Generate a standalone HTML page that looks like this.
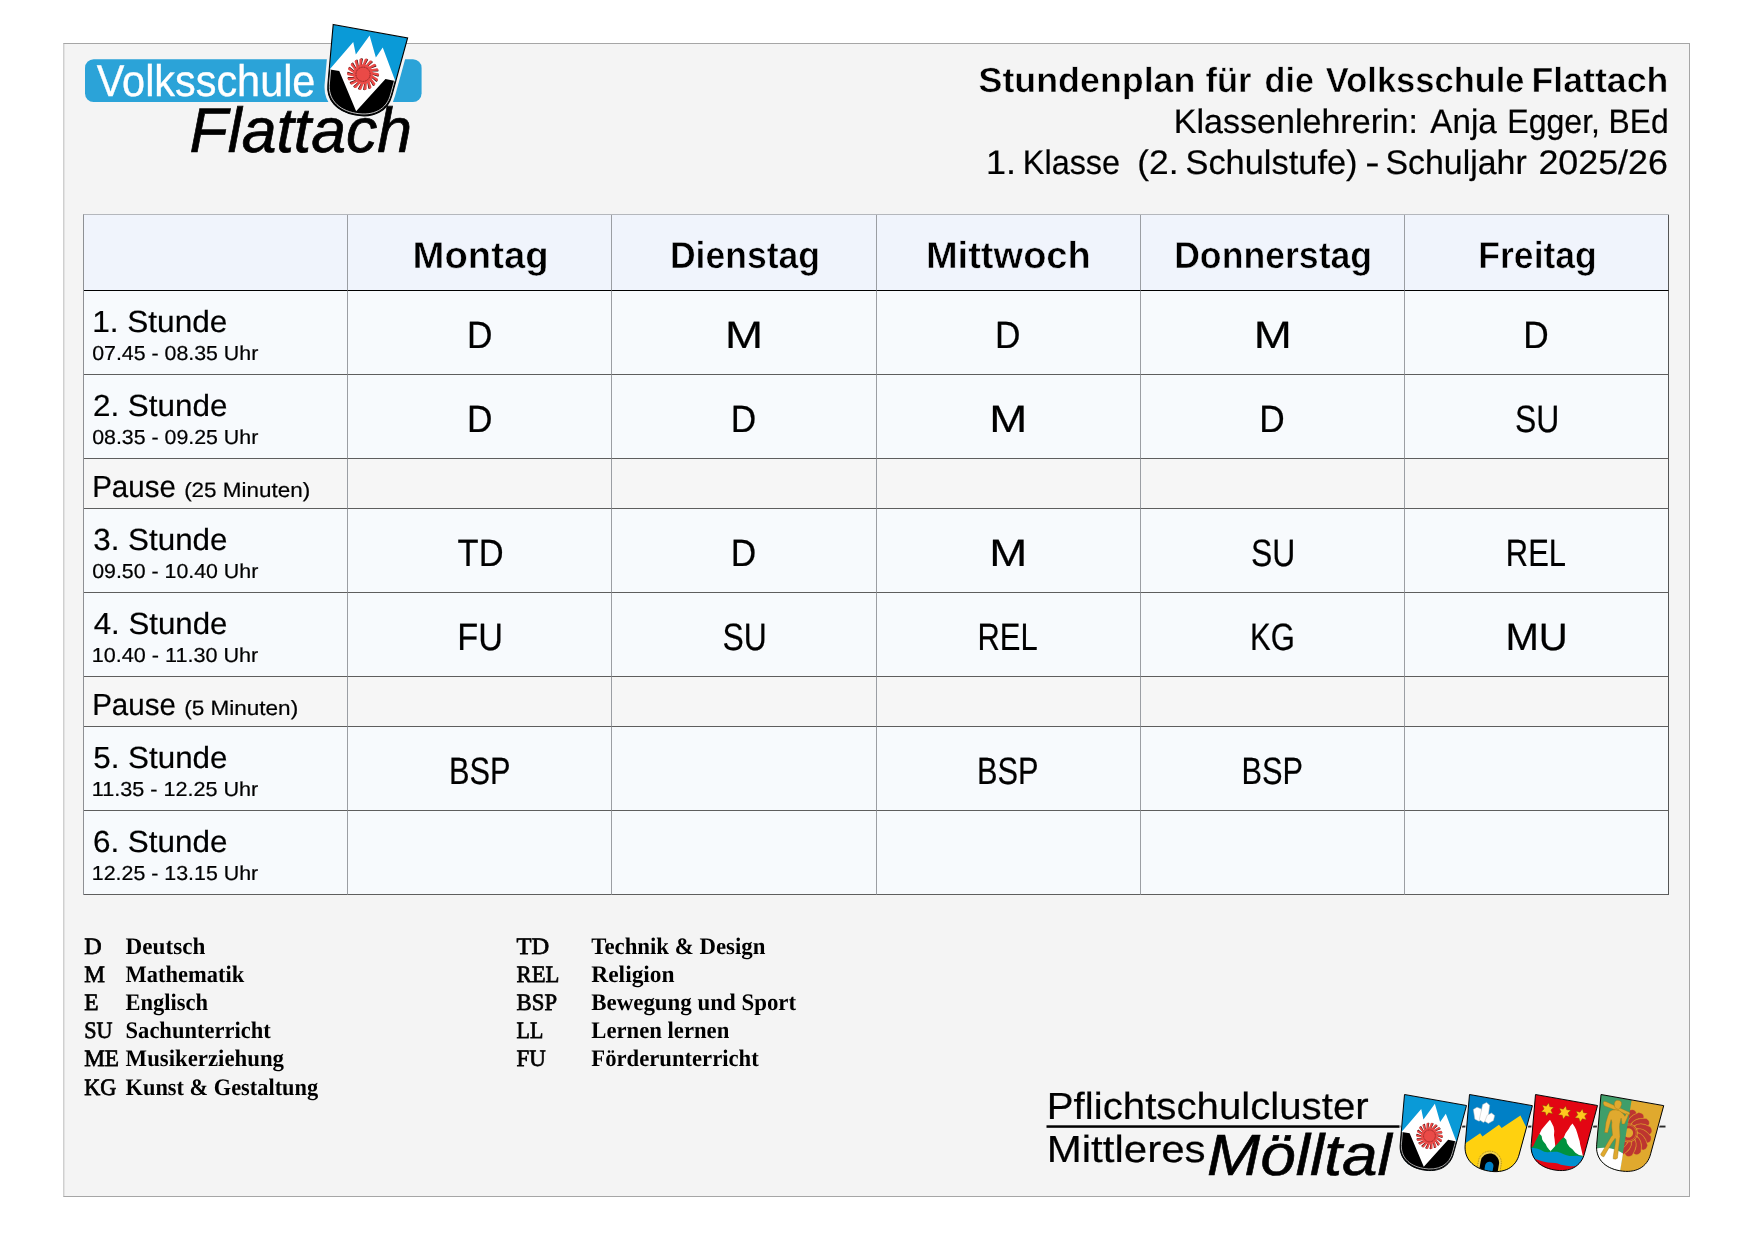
<!DOCTYPE html><html lang="de"><head><meta charset="utf-8"><title>Stundenplan Volksschule Flattach</title><style>
html,body{margin:0;padding:0;background:#fff}
body{width:1754px;height:1240px;position:relative;overflow:hidden;font-family:"Liberation Sans",sans-serif}
.panel{position:absolute;left:63px;top:43px;width:1625px;height:1152px;background:#f4f4f4;border:1px solid #a6a6a6;border-left-color:#cfcfcf;box-shadow:inset 1px 0 0 #e3e3e3}
table.plan{position:absolute;left:83px;top:214px;border-collapse:separate;border-spacing:0;table-layout:fixed;border-left:1px solid #8e9094;border-top:1px solid #b4b7bc}
table.plan td,table.plan th{box-sizing:border-box;padding:0;border-right:1px solid #9b9ea3;border-bottom:1px solid #5e5e5e}
table.plan tr.h th{background:#f0f4fc;border-bottom-color:#000}
table.plan tr.l td{background:#f7fafd}
table.plan tr.p td{background:#f6f6f6}
table.plan tr td:last-child,table.plan tr th:last-child{border-right-color:#555}
svg.ov{position:absolute;left:0;top:0;will-change:transform}
svg.ov text{font-family:"Liberation Sans",sans-serif;stroke:#000;stroke-width:.22px;text-rendering:geometricPrecision}
svg.ov text[fill="#fff"]{stroke:#fff}
svg.ov text[font-weight="bold"]{stroke:#f4f4f4;stroke-width:.5px;paint-order:fill stroke}
svg.ov text.th{stroke:#f0f4fc}
svg.ov text.sf[font-weight="bold"]{stroke:none}
svg.ov text.sf{font-family:"Liberation Serif",serif}
svg.ov text.lc{stroke:#000;stroke-width:.75px}
</style></head><body><div class="panel"></div><table class="plan"><colgroup><col style="width:264px"><col style="width:264px"><col style="width:265px"><col style="width:264px"><col style="width:264px"><col style="width:264px"></colgroup><tr class="h" style="height:76px"><th></th><th></th><th></th><th></th><th></th><th></th></tr><tr class="l" style="height:84px"><td></td><td></td><td></td><td></td><td></td><td></td></tr><tr class="l" style="height:84px"><td></td><td></td><td></td><td></td><td></td><td></td></tr><tr class="p" style="height:50px"><td></td><td></td><td></td><td></td><td></td><td></td></tr><tr class="l" style="height:84px"><td></td><td></td><td></td><td></td><td></td><td></td></tr><tr class="l" style="height:84px"><td></td><td></td><td></td><td></td><td></td><td></td></tr><tr class="p" style="height:50px"><td></td><td></td><td></td><td></td><td></td><td></td></tr><tr class="l" style="height:84px"><td></td><td></td><td></td><td></td><td></td><td></td></tr><tr class="l" style="height:84px"><td></td><td></td><td></td><td></td><td></td><td></td></tr></table><svg class="ov" width="1754" height="1240" viewBox="0 0 1754 1240"><defs><clipPath id="sh"><path d="M0,0 L100,0 L93,78 C91.5,100 75,112.7 50,112.7 C25,112.7 8.5,100 7,78 Z"/></clipPath><clipPath id="blk"><polygon points="-2,59.4 18.8,59.2 50.2,107.6 80.8,58.8 102,59.1 102,120 -2,120"/></clipPath><clipPath id="cR"><polygon points="46,-5 105,-5 105,120 46,120"/></clipPath><g id="s1"><g clip-path="url(#sh)"><rect x="-5" y="-5" width="110" height="125" fill="#0a9ad7"/><polygon points="-2,72.5 30.2,18.2 36.5,33.7 50,5.9 63.3,33.1 69.9,18.5 102,72.5 102,120 -2,120" fill="#fff"/><polygon points="-2,59.4 18.8,59.2 50.2,107.6 80.8,58.8 102,59.1 102,120 -2,120" fill="#000"/><g fill="#3a1212"><polygon points="62.6,57.6 70.6,61.1 71.0,63.0 69.7,64.6 62.3,60.4"/><polygon points="61.9,61.8 68.3,67.8 68.0,69.8 66.3,70.8 60.7,64.3"/><polygon points="59.9,65.4 63.8,73.2 62.9,75.0 60.9,75.4 57.9,67.4"/><polygon points="56.7,68.2 57.7,76.9 56.2,78.2 54.2,77.9 54.2,69.3"/><polygon points="52.8,69.7 50.8,78.2 48.9,78.9 47.2,77.9 50.0,69.9"/><polygon points="48.6,69.7 43.8,77.1 41.8,77.1 40.5,75.6 45.9,69.0"/><polygon points="44.6,68.4 37.6,73.6 35.7,73.0 35.0,71.1 42.4,66.7"/><polygon points="41.4,65.7 33.0,68.2 31.4,67.0 31.4,65.0 39.8,63.4"/><polygon points="39.2,62.1 30.5,61.6 29.4,59.9 30.1,58.0 38.5,59.4"/><polygon points="38.4,58.0 30.4,54.5 30.0,52.6 31.3,51.0 38.7,55.2"/><polygon points="39.1,53.8 32.7,47.8 33.0,45.8 34.7,44.8 40.3,51.3"/><polygon points="41.1,50.2 37.2,42.4 38.1,40.6 40.1,40.2 43.1,48.2"/><polygon points="44.3,47.4 43.3,38.7 44.8,37.4 46.8,37.7 46.8,46.3"/><polygon points="48.2,45.9 50.2,37.4 52.1,36.7 53.8,37.7 51.0,45.7"/><polygon points="52.4,45.9 57.2,38.5 59.2,38.5 60.5,40.0 55.1,46.6"/><polygon points="56.4,47.2 63.4,42.0 65.3,42.6 66.0,44.5 58.6,48.9"/><polygon points="59.6,49.9 68.0,47.4 69.6,48.6 69.6,50.6 61.2,52.2"/><polygon points="61.8,53.5 70.5,54.0 71.6,55.7 70.9,57.6 62.5,56.2"/></g><g fill="#ea4a47"><polygon points="62.6,57.0 70.8,60.1 71.3,62.0 70.1,63.6 62.4,59.8"/><polygon points="62.1,61.2 68.8,66.9 68.6,68.9 66.9,69.9 61.0,63.8"/><polygon points="60.3,65.0 64.6,72.6 63.7,74.4 61.7,74.8 58.4,67.0"/><polygon points="57.2,67.9 58.7,76.5 57.2,77.9 55.2,77.6 54.7,69.1"/><polygon points="53.4,69.6 51.8,78.2 50.0,79.0 48.2,78.1 50.6,69.9"/><polygon points="49.2,69.8 44.8,77.4 42.7,77.5 41.4,76.0 46.5,69.2"/><polygon points="45.1,68.7 38.4,74.2 36.5,73.7 35.7,71.8 42.8,67.1"/><polygon points="41.8,66.2 33.5,69.1 31.9,67.9 31.8,65.9 40.1,63.9"/><polygon points="39.4,62.7 30.7,62.6 29.5,60.9 30.1,59.0 38.6,60.0"/><polygon points="38.4,58.6 30.2,55.5 29.7,53.6 30.9,52.0 38.6,55.8"/><polygon points="38.9,54.4 32.2,48.7 32.4,46.7 34.1,45.7 40.0,51.8"/><polygon points="40.7,50.6 36.4,43.0 37.3,41.2 39.3,40.8 42.6,48.6"/><polygon points="43.8,47.7 42.3,39.1 43.8,37.7 45.8,38.0 46.3,46.5"/><polygon points="47.6,46.0 49.2,37.4 51.0,36.6 52.8,37.5 50.4,45.7"/><polygon points="51.8,45.8 56.2,38.2 58.3,38.1 59.6,39.6 54.5,46.4"/><polygon points="55.9,46.9 62.6,41.4 64.5,41.9 65.3,43.8 58.2,48.5"/><polygon points="59.2,49.4 67.5,46.5 69.1,47.7 69.2,49.7 60.9,51.7"/><polygon points="61.6,52.9 70.3,53.0 71.5,54.7 70.9,56.6 62.4,55.6"/></g><circle cx="50.5" cy="57.8" r="13.1" fill="#ea4a47"/><circle cx="50.5" cy="57.8" r="9.4" fill="none" stroke="#7a2020" stroke-width="1" stroke-dasharray="1.5 0.8"/><g clip-path="url(#blk)"><path d="M0,0 L100,0 L93,78 C91.5,100 75,112.7 50,112.7 C25,112.7 8.5,100 7,78 Z" transform="translate(50 54) scale(0.958) translate(-50 -54)" fill="none" stroke="#fff" stroke-width="1"/></g></g><path d="M0,0 L100,0 L93,78 C91.5,100 75,112.7 50,112.7 C25,112.7 8.5,100 7,78 Z" fill="none" stroke="#000" stroke-width="1.45" stroke-linejoin="miter"/></g><g id="s2"><g clip-path="url(#sh)"><rect x="-5" y="-5" width="110" height="125" fill="#0080c6"/><polygon points="-2,85 8,75.2 27,56.9 31.4,61.3 53.6,38.5 58.7,42.8 84.2,18.4 95.5,33.8 102,40 102,120 -2,120" fill="#ffd10f"/><g fill="#fff" stroke="#b9b9b9" stroke-width="0.7" stroke-linejoin="round"><polygon points="10,22 15,17.5 22,19 27,33 22,38.5 15,36.5"/><polygon points="23,12 28.5,7.5 34,11 35,33 29,39.5 22,36"/><polygon points="33,27 39,22.5 44.5,25.5 44,33.5 37,39.5 31,37"/></g><path d="M32,116 L32,99.5 A18,18 0 0 1 68,99.5 L68,116 Z" fill="#f3d24a" stroke="#7a6410" stroke-width="0.9" stroke-dasharray="1.5 1.3"/><path d="M35.5,116 L35.5,99.5 A14.5,14.5 0 0 1 64.5,99.5 L64.5,116 Z" fill="#000"/><path d="M43.5,116 L43.5,104.5 A6.5,6.5 0 0 1 56.5,104.5 L56.5,116 Z" fill="#0080c6"/></g><path d="M0,0 L100,0 L93,78 C91.5,100 75,112.7 50,112.7 C25,112.7 8.5,100 7,78 Z" fill="none" stroke="#000" stroke-width="1.45"/></g><g id="s3"><g clip-path="url(#sh)"><rect x="-5" y="-5" width="110" height="125" fill="#e30613"/><polygon points="22.9,9.5 25.7,15.3 32.1,14.8 28.4,20.1 32.1,25.4 25.7,24.9 22.9,30.7 20.1,24.9 13.7,25.4 17.4,20.1 13.7,14.8 20.1,15.3" fill="#ffc81e" stroke="#7a4a00" stroke-width="0.6"/><polygon points="50.3,9.5 53.1,15.3 59.5,14.8 55.8,20.1 59.5,25.4 53.1,24.9 50.3,30.7 47.5,24.9 41.1,25.4 44.8,20.1 41.1,14.8 47.5,15.3" fill="#ffc81e" stroke="#7a4a00" stroke-width="0.6"/><polygon points="77.3,9.5 80.1,15.3 86.5,14.8 82.8,20.1 86.5,25.4 80.1,24.9 77.3,30.7 74.5,24.9 68.1,25.4 71.8,20.1 68.1,14.8 74.5,15.3" fill="#ffc81e" stroke="#7a4a00" stroke-width="0.6"/><polygon points="17.1,60.5 19.3,53.1 22.4,47.8 26.0,41.4 29.7,35.6 33.3,40.1 37.2,45.2 39.5,51.8 40.2,58.7 42.5,65.4 44.3,72.1 46.0,78.0 46.0,88.0 12.0,88.0" fill="#fff"/><polygon points="56.1,59.4 57.7,52.1 61.6,44.4 63.1,39.5 65.9,35.2 70.1,39.4 73.1,43.5 76.6,49.9 78.6,54.3 82.0,60.7 83.4,65.1 87.3,73.8 90.4,81.4 93.0,88.0 55.0,88.0" fill="#fff"/><polygon points="0.0,92.0 4.0,88.0 10.8,81.5 13.6,70.5 17.1,60.2 21.1,63.3 23.2,68.8 25.4,71.3 29.5,74.7 32.6,78.8 36.8,82.7 39.4,84.0 40.0,90.0" fill="#00923f"/><polygon points="39.4,84.0 44.9,75.5 48.6,70.1 52.1,63.6 56.1,59.1 60.7,62.1 62.8,67.6 67.8,72.6 72.9,75.2 78.5,80.0 84.7,82.4 90.6,82.6 94.0,90.0 39.0,90.0" fill="#00923f"/><polygon points="-2.0,84.5 9.0,84.2 17.1,83.9 23.0,85.0 29.4,87.0 34.5,86.8 39.7,85.7 44.5,84.2 49.8,83.4 55.0,84.0 60.7,85.5 65.5,86.5 70.3,86.7 76.0,85.7 81.5,84.2 90.9,84.3 102.0,84.0 102.0,96.0 88.0,98.5 79.9,101.4 74.0,102.6 68.5,102.9 59.1,102.8 54.0,101.8 49.5,101.6 43.5,102.5 38.1,103.0 32.0,102.9 26.2,102.2 15.4,100.6 8.0,97.5 -2.0,96.0" fill="#0090d0"/></g><path d="M0,0 L100,0 L93,78 C91.5,100 75,112.7 50,112.7 C25,112.7 8.5,100 7,78 Z" fill="none" stroke="#000" stroke-width="1.45"/></g><g id="s4"><g clip-path="url(#sh)"><rect x="-5" y="-5" width="110" height="125" fill="#e0a92e"/><g clip-path="url(#cR)"><g fill="#bd3530" stroke="#e0a92e" stroke-width="0.5"><path d="M67.2,49.4 Q77.9,48.6 85.9,65.7 Q85.5,75.1 77.4,74.1 Q77.6,61.4 67.2,54.2 Z"/><path d="M66.9,55.4 Q77.0,59.1 77.4,78.0 Q73.2,86.3 66.2,82.1 Q71.6,70.6 65.0,59.8 Z"/><path d="M64.3,60.8 Q72.0,68.2 64.6,85.6 Q57.4,91.6 52.7,84.9 Q62.3,76.6 60.7,64.0 Z"/><path d="M59.6,64.6 Q63.6,74.6 49.8,87.5 Q40.8,90.0 39.2,82.0 Q51.4,78.3 55.0,66.1 Z"/><path d="M53.8,66.3 Q53.4,77.0 35.6,83.1 Q26.4,81.8 28.1,73.8 Q40.8,75.4 49.0,65.8 Z"/><path d="M47.8,65.4 Q43.1,75.0 24.3,73.4 Q16.5,68.4 21.3,61.8 Q32.3,68.4 43.7,63.0 Z"/><path d="M42.8,62.2 Q34.5,69.0 18.0,59.9 Q12.9,52.1 20.0,48.1 Q27.3,58.6 39.9,58.2 Z"/><path d="M39.4,57.1 Q29.1,60.1 17.7,45.0 Q16.2,35.8 24.3,35.0 Q26.7,47.6 38.4,52.4 Z"/><path d="M38.4,51.2 Q27.8,49.7 23.5,31.3 Q25.9,22.3 33.6,24.9 Q30.7,37.3 39.4,46.5 Z"/><path d="M39.9,45.4 Q30.8,39.7 34.4,21.1 Q40.2,13.8 46.2,19.4 Q38.5,29.5 42.8,41.4 Z"/><path d="M43.7,40.6 Q37.7,31.7 48.5,16.3 Q56.8,11.9 60.0,19.5 Q48.8,25.6 47.8,38.2 Z"/><path d="M49.0,37.8 Q47.2,27.3 63.3,17.5 Q72.6,17.0 72.5,25.1 Q59.8,26.2 53.8,37.3 Z"/><path d="M55.0,37.5 Q57.6,27.1 76.4,24.7 Q85.1,28.0 81.7,35.4 Q69.6,31.3 59.6,39.0 Z"/><path d="M60.7,39.6 Q67.3,31.1 85.3,36.6 Q92.0,43.1 85.9,48.6 Q76.5,39.8 64.3,42.8 Z"/><path d="M65.0,43.8 Q74.4,38.8 88.7,51.1 Q92.1,59.8 84.3,62.3 Q79.4,50.5 66.9,48.2 Z"/></g><circle cx="52.9" cy="51.8" r="13.6" fill="#bd3530"/><circle cx="52.9" cy="51.8" r="12.2" fill="none" stroke="#e0a92e" stroke-width="0.7"/><circle cx="52.9" cy="51.8" r="7.4" fill="#e0a92e"/></g><polygon points="-5,-5 48.9,-5 48.9,2.4 50.4,120 -5,120" fill="#3f9e6a"/><path d="M-5,92 C5,84 18,80.5 28.6,80.7 C38,81 45,83 50.2,85 L50.6,120 L-5,120 Z" fill="#fff"/><g fill="#e0a92e" stroke="#9a7416" stroke-width="0.6" stroke-linejoin="round"><path d="M5.5,12.5 L6.5,9.5 L10,9.8 L48.5,19.5 L50,22 L48.5,24.5 L8,16.5 Z"/><path d="M18,24 L22,21 L27,19.5 L33,20 L39.5,23.5 L43,27 L44.5,22.5 L48,23.5 L47.5,27 L44.5,39 L40.5,40 L39.5,36 L37.5,31 L37,40 L37.5,45 L41,60 L41,62 L42.8,94 L40,96 L36.5,96 L36,92 L35.4,66 L33.9,63.8 L30,72 L21.5,95.5 L18,95 L15.8,92.5 L20,82 L27.5,61.5 L29,60 L25,45.5 L24.5,40 L22.5,36 L20.8,57.3 L16,57.6 L15.3,41.5 L16.5,31 Z"/><path d="M23.5,7 L26,4.5 L30,4.2 L33.5,6 L34.5,10 L33.5,15 L31,18.2 L27.5,18 L24.5,15.5 L23,11 Z"/></g></g><path d="M0,0 L100,0 L93,78 C91.5,100 75,112.7 50,112.7 C25,112.7 8.5,100 7,78 Z" fill="none" stroke="#000" stroke-width="1.45"/></g><path id="halo" d="M0,0 L100,0 L93,78 C91.5,100 75,112.7 50,112.7 C25,112.7 8.5,100 7,78 Z" fill="#f4f4f4" stroke="#f4f4f4" stroke-linejoin="round"/></defs><clipPath id="pn"><rect x="64" y="44" width="1625" height="1152"/></clipPath><rect x="85" y="59.3" width="336.6" height="42.6" rx="8.6" fill="#2ba3d8"/><rect x="1046.5" y="1125.3" width="353" height="2.5" fill="#000"/><rect x="1400" y="1125.6" width="265.5" height="1.9" fill="#2a2a2a"/><g clip-path="url(#pn)"><use href="#halo" stroke-width="8.6" transform="translate(333.2 24.5) rotate(10.2) scale(0.756)"/></g><use href="#s1" transform="translate(333.2 24.5) rotate(10.2) scale(0.756)"/><use href="#halo" transform="translate(1404.5 1094.5) rotate(10.06) scale(0.63)" stroke-width="4.13"/><use href="#s1" transform="translate(1404.5 1094.5) rotate(10.06) scale(0.63)"/><use href="#halo" transform="translate(1469.5 1094.5) rotate(10.06) scale(0.639)" stroke-width="4.07"/><use href="#s2" transform="translate(1469.5 1094.5) rotate(10.06) scale(0.639)"/><use href="#halo" transform="translate(1535.5 1094.5) rotate(10.06) scale(0.63)" stroke-width="4.13"/><use href="#s3" transform="translate(1535.5 1094.5) rotate(10.06) scale(0.63)"/><use href="#halo" transform="translate(1601 1094.5) rotate(10.06) scale(0.637)" stroke-width="4.08"/><use href="#s4" transform="translate(1601 1094.5) rotate(10.06) scale(0.637)"/><text transform="translate(96.79 96.00) scale(0.9338 1)" font-size="44.33" fill="#fff" style="stroke-width:0.35px">Volksschule</text>
<text transform="translate(189.62 151.50) scale(0.9885 1)" font-size="63.23" font-style="italic" style="stroke-width:0.7px">Flattach</text>
<text transform="translate(978.53 91.50) scale(1.0270 1)" font-size="34.88" font-weight="bold">Stundenplan </text>
<text transform="translate(1205.48 91.50) scale(0.9907 1)" font-size="34.88" font-weight="bold">für </text>
<text transform="translate(1264.53 91.50) scale(0.9793 1)" font-size="34.88" font-weight="bold">die </text>
<text transform="translate(1325.86 91.50) scale(0.9886 1)" font-size="34.88" font-weight="bold">Volksschule </text>
<text transform="translate(1531.48 91.50) scale(1.0238 1)" font-size="34.88" font-weight="bold">Flattach</text>
<text transform="translate(1173.78 132.50) scale(1.0056 1)" font-size="33.87">Klassenlehrerin: </text>
<text transform="translate(1430.33 132.50) scale(0.9798 1)" font-size="33.87">Anja </text>
<text transform="translate(1507.23 132.50) scale(0.9477 1)" font-size="33.87">Egger, </text>
<text transform="translate(1608.46 132.50) scale(0.9391 1)" font-size="33.87">BEd</text>
<text transform="translate(985.90 173.50) scale(1.0531 1)" font-size="34.16">1. </text>
<text transform="translate(1022.81 173.50) scale(0.9491 1)" font-size="34.16">Klasse  </text>
<text transform="translate(1137.18 173.50) scale(1.0355 1)" font-size="34.16">(2. </text>
<text transform="translate(1185.45 173.50) scale(1.0072 1)" font-size="34.16">Schulstufe) </text>
<text transform="translate(1365.27 173.50) scale(1.2547 1)" font-size="34.16">- </text>
<text transform="translate(1385.48 173.50) scale(0.9915 1)" font-size="34.16">Schuljahr </text>
<text transform="translate(1538.41 173.50) scale(1.0488 1)" font-size="34.16">2025/26</text>
<text transform="translate(412.51 267.50) scale(1.0214 1)" font-size="37.50" class="th" font-weight="bold">Montag</text>
<text transform="translate(669.89 267.50) scale(0.9480 1)" font-size="37.50" class="th" font-weight="bold">Dienstag</text>
<text transform="translate(925.93 267.50) scale(1.0146 1)" font-size="37.50" class="th" font-weight="bold">Mittwoch</text>
<text transform="translate(1174.13 267.50) scale(0.9502 1)" font-size="37.50" class="th" font-weight="bold">Donnerstag</text>
<text transform="translate(1478.34 267.50) scale(0.9475 1)" font-size="37.50" class="th" font-weight="bold">Freitag</text>
<text transform="translate(92.13 331.50) scale(1.0356 1)" font-size="30.52">1. Stunde</text>
<text transform="translate(92.15 359.60) scale(1.0572 1)" font-size="20.20">07.45 - 08.35 Uhr</text>
<text transform="translate(92.93 415.50) scale(1.0294 1)" font-size="30.52">2. Stunde</text>
<text transform="translate(92.15 443.60) scale(1.0572 1)" font-size="20.20">08.35 - 09.25 Uhr</text>
<text transform="translate(93.25 549.50) scale(1.0270 1)" font-size="30.52">3. Stunde</text>
<text transform="translate(92.15 577.60) scale(1.0572 1)" font-size="20.20">09.50 - 10.40 Uhr</text>
<text transform="translate(93.72 633.50) scale(1.0233 1)" font-size="30.52">4. Stunde</text>
<text transform="translate(91.78 661.60) scale(1.0699 1)" font-size="20.20">10.40 - 11.30 Uhr</text>
<text transform="translate(93.25 767.50) scale(1.0270 1)" font-size="30.52">5. Stunde</text>
<text transform="translate(91.78 795.60) scale(1.0699 1)" font-size="20.20">11.35 - 12.25 Uhr</text>
<text transform="translate(92.93 851.50) scale(1.0294 1)" font-size="30.52">6. Stunde</text>
<text transform="translate(91.79 879.60) scale(1.0594 1)" font-size="20.20">12.25 - 13.15 Uhr</text>
<text transform="translate(92.14 496.50) scale(0.9671 1)" font-size="30.52">Pause</text>
<text transform="translate(184.15 496.50) scale(1.0881 1)" font-size="20.64">(25 Minuten)</text>
<text transform="translate(92.14 714.50) scale(0.9671 1)" font-size="30.52">Pause</text>
<text transform="translate(184.15 714.50) scale(1.0927 1)" font-size="20.64">(5 Minuten)</text>
<text transform="translate(466.88 348.20) scale(0.9268 1)" font-size="38.08">D</text>
<text transform="translate(725.05 348.20) scale(1.1993 1)" font-size="38.08">M</text>
<text transform="translate(994.98 348.20) scale(0.9268 1)" font-size="38.08">D</text>
<text transform="translate(1253.65 348.20) scale(1.1993 1)" font-size="38.08">M</text>
<text transform="translate(1523.28 348.20) scale(0.9268 1)" font-size="38.08">D</text>
<text transform="translate(466.88 432.20) scale(0.9268 1)" font-size="38.08">D</text>
<text transform="translate(730.68 432.20) scale(0.9268 1)" font-size="38.08">D</text>
<text transform="translate(989.35 432.20) scale(1.1993 1)" font-size="38.08">M</text>
<text transform="translate(1259.28 432.20) scale(0.9268 1)" font-size="38.08">D</text>
<text transform="translate(1515.02 432.20) scale(0.8366 1)" font-size="38.08">SU</text>
<text transform="translate(457.59 566.20) scale(0.9066 1)" font-size="38.08">TD</text>
<text transform="translate(730.68 566.20) scale(0.9268 1)" font-size="38.08">D</text>
<text transform="translate(989.35 566.20) scale(1.1993 1)" font-size="38.08">M</text>
<text transform="translate(1251.02 566.20) scale(0.8366 1)" font-size="38.08">SU</text>
<text transform="translate(1505.83 566.20) scale(0.8122 1)" font-size="38.08">REL</text>
<text transform="translate(457.31 650.20) scale(0.9006 1)" font-size="38.08">FU</text>
<text transform="translate(722.42 650.20) scale(0.8366 1)" font-size="38.08">SU</text>
<text transform="translate(977.53 650.20) scale(0.8122 1)" font-size="38.08">REL</text>
<text transform="translate(1250.12 650.20) scale(0.8142 1)" font-size="38.08">KG</text>
<text transform="translate(1505.39 650.20) scale(1.0541 1)" font-size="38.08">MU</text>
<text transform="translate(448.99 784.20) scale(0.8074 1)" font-size="38.08">BSP</text>
<text transform="translate(977.09 784.20) scale(0.8074 1)" font-size="38.08">BSP</text>
<text transform="translate(1241.39 784.20) scale(0.8074 1)" font-size="38.08">BSP</text>
<text transform="translate(84.20 953.50) scale(1.0188 1)" font-size="23.67" class="sf lc">D</text>
<text transform="translate(125.60 953.50) scale(0.9779 1)" font-size="23.67" class="sf" font-weight="bold">Deutsch</text>
<text transform="translate(84.20 981.70) scale(0.9824 1)" font-size="23.67" class="sf lc">M</text>
<text transform="translate(125.60 981.70) scale(0.9498 1)" font-size="23.67" class="sf" font-weight="bold">Mathematik</text>
<text transform="translate(84.20 1009.90) scale(0.9882 1)" font-size="23.67" class="sf lc">E</text>
<text transform="translate(125.60 1009.90) scale(0.9502 1)" font-size="23.67" class="sf" font-weight="bold">Englisch</text>
<text transform="translate(84.20 1038.10) scale(0.9358 1)" font-size="23.67" class="sf lc">SU</text>
<text transform="translate(125.60 1038.10) scale(0.9518 1)" font-size="23.67" class="sf" font-weight="bold">Sachunterricht</text>
<text transform="translate(84.20 1066.30) scale(0.9818 1)" font-size="23.67" class="sf lc">ME</text>
<text transform="translate(125.60 1066.30) scale(0.9643 1)" font-size="23.67" class="sf" font-weight="bold">Musikerziehung</text>
<text transform="translate(84.20 1094.50) scale(0.9374 1)" font-size="23.67" class="sf lc">KG</text>
<text transform="translate(125.60 1094.50) scale(0.9450 1)" font-size="23.67" class="sf" font-weight="bold">Kunst &amp; Gestaltung</text>
<text transform="translate(516.60 953.50) scale(1.0373 1)" font-size="23.67" class="sf lc">TD</text>
<text transform="translate(591.30 953.50) scale(0.9642 1)" font-size="23.67" class="sf" font-weight="bold">Technik &amp; Design</text>
<text transform="translate(516.60 981.70) scale(0.9557 1)" font-size="23.67" class="sf lc">REL</text>
<text transform="translate(591.30 981.70) scale(0.9905 1)" font-size="23.67" class="sf" font-weight="bold">Religion</text>
<text transform="translate(516.60 1009.90) scale(0.9614 1)" font-size="23.67" class="sf lc">BSP</text>
<text transform="translate(591.30 1009.90) scale(0.9677 1)" font-size="23.67" class="sf" font-weight="bold">Bewegung und Sport</text>
<text transform="translate(516.60 1038.10) scale(0.9250 1)" font-size="23.67" class="sf lc">LL</text>
<text transform="translate(591.30 1038.10) scale(0.9591 1)" font-size="23.67" class="sf" font-weight="bold">Lernen lernen</text>
<text transform="translate(516.60 1066.30) scale(0.9661 1)" font-size="23.67" class="sf lc">FU</text>
<text transform="translate(591.30 1066.30) scale(0.9582 1)" font-size="23.67" class="sf" font-weight="bold">Förderunterricht</text>
<text transform="translate(1046.78 1118.50) scale(1.0645 1)" font-size="37.79">Pflichtschulcluster</text>
<text transform="translate(1046.63 1162.00) scale(1.1134 1)" font-size="37.79">Mittleres</text>
<text transform="translate(1207.08 1175.00) scale(1.0989 1)" font-size="58.14" font-style="italic" style="stroke-width:0.6px">Mölltal</text></svg></body></html>
